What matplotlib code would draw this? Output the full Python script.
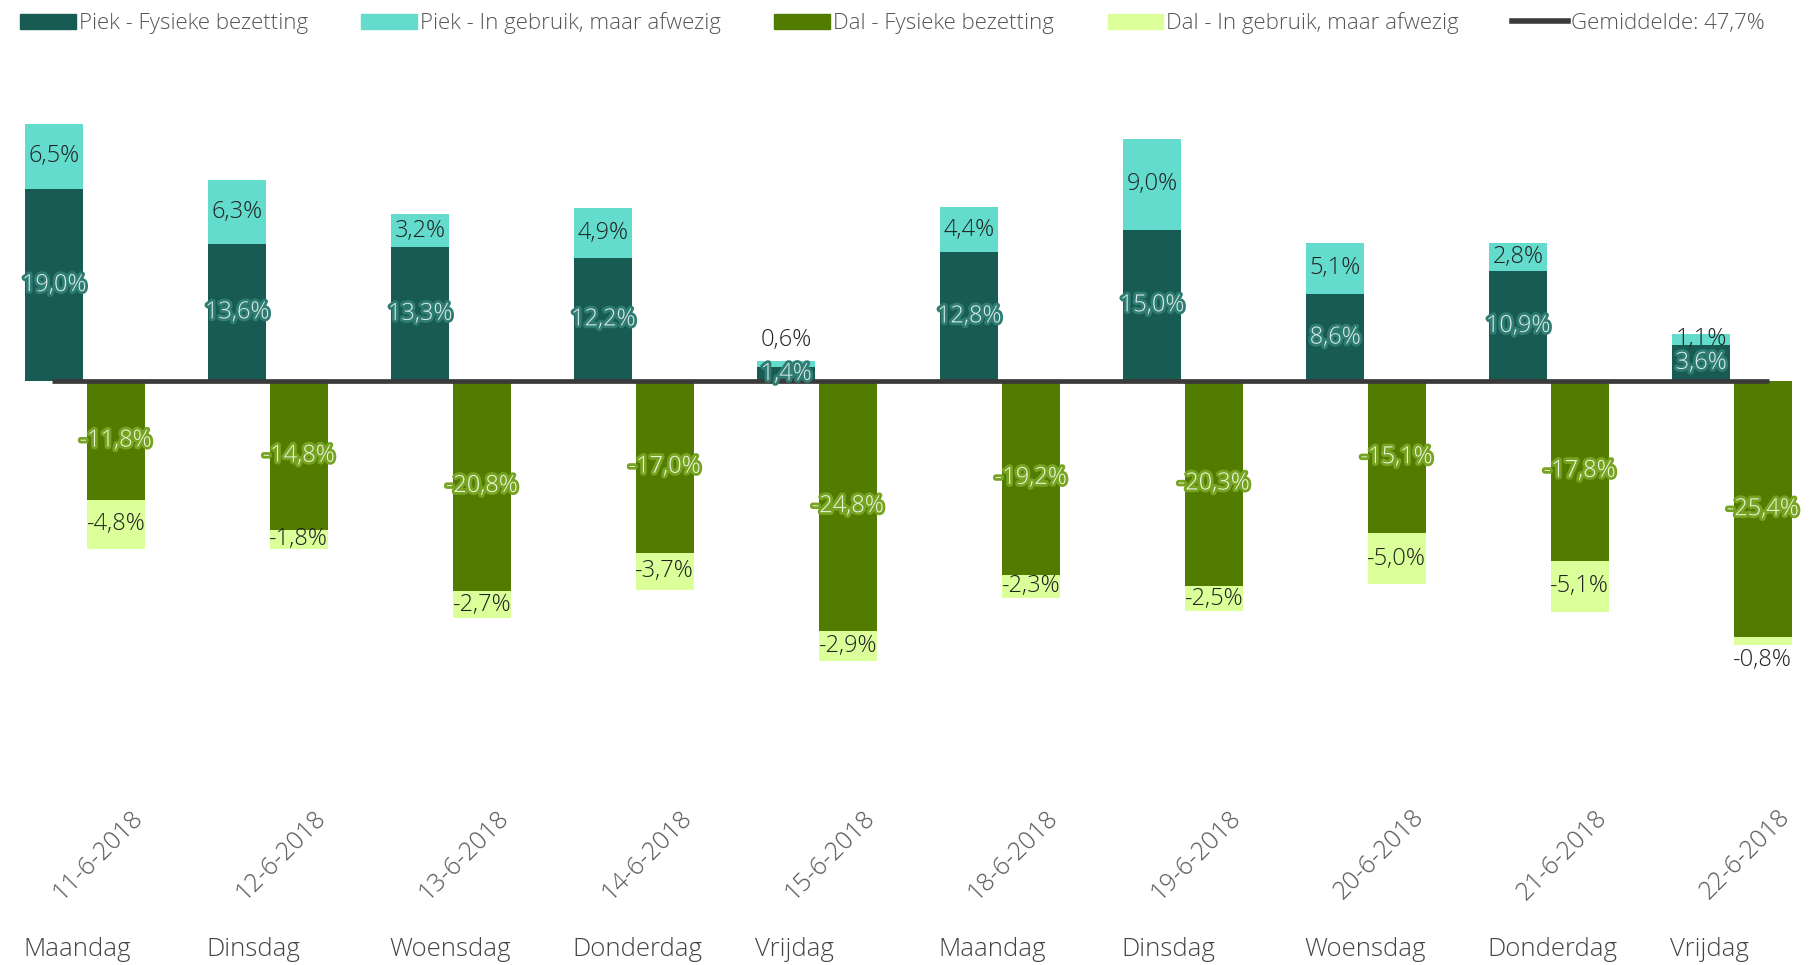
import matplotlib
matplotlib.use('Agg')
import matplotlib.pyplot as plt
import matplotlib.patheffects as pe
from matplotlib.patches import Patch
from matplotlib.lines import Line2D
import numpy as np

plt.rcParams['font.family'] = ['Open Sans', 'DejaVu Sans']
plt.rcParams['font.weight'] = 'light'

dates = ['11-6-2018', '12-6-2018', '13-6-2018', '14-6-2018', '15-6-2018',
         '18-6-2018', '19-6-2018', '20-6-2018', '21-6-2018', '22-6-2018']
days = ['Maandag', 'Dinsdag', 'Woensdag', 'Donderdag', 'Vrijdag',
        'Maandag', 'Dinsdag', 'Woensdag', 'Donderdag', 'Vrijdag']

piek_fys = [19.0, 13.6, 13.3, 12.2, 1.4, 12.8, 15.0, 8.6, 10.9, 3.6]
piek_afw = [6.5, 6.3, 3.2, 4.9, 0.6, 4.4, 9.0, 5.1, 2.8, 1.1]
dal_fys = [-11.8, -14.8, -20.8, -17.0, -24.8, -19.2, -20.3, -15.1, -17.8, -25.4]
dal_afw = [-4.8, -1.8, -2.7, -3.7, -2.9, -2.3, -2.5, -5.0, -5.1, -0.8]
gemiddelde = 47.7

c_pf = '#175b53'
c_pa = '#64dccd'
c_df = '#517c00'
c_da = '#dbff99'

fig = plt.figure(figsize=(18.16, 9.65), dpi=100)
ax = fig.add_axes([0, 1 - 700/965, 1, 640/965])

x = np.arange(len(dates))
off = 0.168
w = 0.316

ax.bar(x - off, piek_fys, w, color=c_pf, zorder=2)
ax.bar(x - off, piek_afw, w, bottom=piek_fys, color=c_pa, zorder=2)
ax.bar(x + off, dal_fys, w, color=c_df, zorder=2)
ax.bar(x + off, dal_afw, w, bottom=dal_fys, color=c_da, zorder=2)

ax.hlines(0, -0.18, len(dates) - 0.8, color='#3a3a3a', lw=3.4, zorder=3)


def fmt(v):
    return f'{v:.1f}%'.replace('.', ',')


halo_p = [pe.withStroke(linewidth=4, foreground='#2f7d72')]
halo_d = [pe.withStroke(linewidth=4, foreground='#76a322')]
fs = 17

for i in x:
    # piek labels
    ax.text(i - off, piek_fys[i] / 2, fmt(piek_fys[i]), ha='center', va='center',
            fontsize=fs, color='#dcecea', path_effects=halo_p, zorder=5)
    top = piek_fys[i] + piek_afw[i]
    if piek_afw[i] < 1:
        ax.text(i - off, top + 0.9, fmt(piek_afw[i]), ha='center', va='bottom',
                fontsize=fs, color='#222222', zorder=5)
    else:
        ax.text(i - off, piek_fys[i] + piek_afw[i] / 2, fmt(piek_afw[i]), ha='center',
                va='center', fontsize=fs, color='#222222', zorder=5)
    # dal labels
    ax.text(i + off, dal_fys[i] / 2, fmt(dal_fys[i]), ha='center', va='center',
            fontsize=fs, color='#eef7dc', path_effects=halo_d, zorder=5)
    bot = dal_fys[i] + dal_afw[i]
    if dal_afw[i] > -1:
        ax.text(i + off, bot - 0.2, fmt(dal_afw[i]), ha='center', va='top',
                fontsize=fs, color='#222222', zorder=5)
    else:
        ax.text(i + off, dal_fys[i] + dal_afw[i] / 2, fmt(dal_afw[i]), ha='center',
                va='center', fontsize=fs, color='#222222', zorder=5)

# category labels
trans = ax.get_xaxis_transform()
for i in x:
    ax.text(i + 0.07, -0.242, dates[i], rotation=45, rotation_mode='anchor',
            ha='center', va='center', fontsize=18, color='#555555', transform=trans)
    ax.text(i - 0.338, -0.39, days[i], ha='left', va='center', fontsize=18.5,
            color='#444444', transform=trans)

ax.set_xlim(-0.465, 9.459)
ax.set_ylim(-31.6, 31.8)
ax.axis('off')

handles = [
    Patch(color=c_pf, label='Piek - Fysieke bezetting'),
    Patch(color=c_pa, label='Piek - In gebruik, maar afwezig'),
    Patch(color=c_df, label='Dal - Fysieke bezetting'),
    Patch(color=c_da, label='Dal - In gebruik, maar afwezig'),
    Line2D([0], [0], color='#3a3a3a', lw=4, label=f'Gemiddelde: {gemiddelde:.1f}%'.replace('.', ',')),
]
leg = fig.legend(handles=handles, loc='upper left', bbox_to_anchor=(0.0, 1.008), ncol=5,
                 frameon=False, fontsize=16, handlelength=2.5, handleheight=0.7,
                 handletextpad=0.15, columnspacing=2.4)
for t in leg.get_texts():
    t.set_color('#555555')

fig.savefig('out.png', dpi=100)
